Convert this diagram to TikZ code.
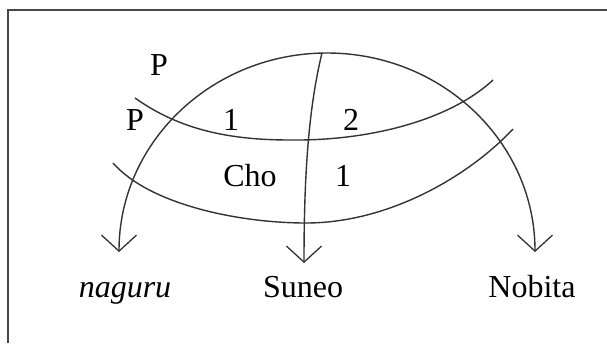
\documentclass[tikz,border=0pt]{standalone}
\usepackage{fontspec}
\setmainfont{Liberation Serif}
\usetikzlibrary{arrows.meta, positioning}
\definecolor{inkgrey}{rgb}{0.2, 0.2, 0.2}

\begin{document}
\begin{tikzpicture}[x=1pt, y=-1pt,
    curve/.style={draw=inkgrey, line width=1.4pt},
    barb/.tip={Straight Barb[length=16pt, width=35pt, line width=1.3pt]},
    lbl/.style={anchor=base, inner sep=0pt, font=\fontsize{32}{38}\selectfont}]
    \useasboundingbox (0,0) rectangle (607,343);
    % frame, cut off at right and bottom
    \draw[inkgrey!90, line width=2pt] (8,343) -- (8,10) -- (607,10);
    % arrow ends
    \coordinate (nagurutip) at (119,252);
    \coordinate (suneotip) at (304,263);
    \coordinate (nobitatip) at (535,252);
    \coordinate (top) at (322,53);
    % labels
    \node[lbl] (pup) at (159,75) {P};
    \node[lbl] (plow) at (135,130) {P};
    \node[lbl] (oneup) at (231,130) {1};
    \node[lbl] (two) at (351,130) {2};
    \node[lbl] (cho) at (250,186) {Cho};
    \node[lbl] (onelow) at (343,186) {1};
    \node[lbl] (naguru) at (125,297) {\itshape naguru};
    \node[lbl] (suneo) at (303,297) {Suneo};
    \node[lbl] (nobita) at (532,297) {Nobita};
    % big arc with both ends
    \draw[curve, barb-barb] (nagurutip) arc[start angle=180, end angle=0, x radius=208pt, y radius=199pt];
    % down to Suneo
    \draw[curve, -barb] (top) .. controls (308,110) and (304,180) .. (suneotip);
    % upper crossing curve
    \draw[curve] (135,98) .. controls (180,130) and (230,140) .. (290,140)
        .. controls (370,141) and (450,120) .. (493,80);
    % lower crossing curve
    \draw[curve] (113,163) .. controls (150,205) and (240,223) .. (306,223)
        .. controls (390,223) and (470,175) .. (513,129);
\end{tikzpicture}
\end{document}
